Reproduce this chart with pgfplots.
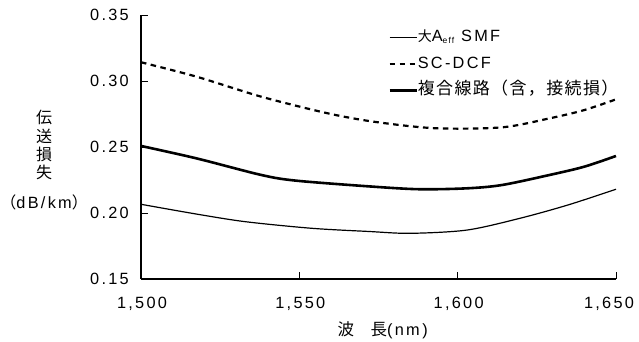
\documentclass[border=0pt]{standalone}
\usepackage{fontspec}
\setmainfont{Liberation Sans}[LetterSpace=14]
\newfontfamily\jp{Noto Sans CJK JP}
\newfontfamily\jpl{Noto Sans CJK JP}[LetterSpace=8]
\usepackage{pgfplots}
\pgfplotsset{compat=1.18}
\newcommand{\J}[1]{{\jpl\fontsize{17}{19}\selectfont #1}}
\newcommand{\LT}{\rmfamily\fontsize{16.3}{16.3}\selectfont}
\begin{document}
\begin{tikzpicture}
\useasboundingbox (0,0) rectangle (639pt,342pt);
\begin{axis}[
  at={(141pt,63pt)}, anchor=south west,
  scale only axis, width=475pt, height=264pt,
  xmin=1500, xmax=1650, ymin=0.15, ymax=0.35,
  clip=false,
  axis x line*=bottom, axis y line*=left,
  axis line style={-, line width=1.2pt},
  xtick={1500,1550,1600,1650},
  xticklabels={{1,500},{1,550},{1,600},{\hspace*{-16pt}1,650}},
  ytick={0.15,0.20,0.25,0.30,0.35},
  yticklabels={0.15,0.20,0.25,0.30,0.35},
  tick align=inside, major tick length=7pt,
  tick style={black, line width=0.8pt},
  ticklabel style={font=\LT},
  yticklabel style={anchor=east, inner sep=0pt, xshift=-12pt},
  xticklabel style={anchor=north, inner sep=0pt, yshift=-18pt, xshift=1pt},
  xlabel={波　長{\LT(nm\,)}},
  xlabel style={font=\jp\fontsize{16.5}{18}\selectfont, at={(axis description cs:0.509,-0.193)}, anchor=center},
  ylabel={\begin{tabular}{@{}c@{}}伝\\送\\損\\失\\[10.7pt]（{\LT dB/km}）\end{tabular}},
  ylabel style={font=\jp\fontsize{16}{16.3}\selectfont, rotate=-90, at={(axis description cs:-0.204,0.444)}, anchor=center, inner sep=0pt},
  legend style={draw=none, fill=none, at={(0.52,0.941)}, anchor=north west,
     font=\LT, row sep=12.3pt, inner sep=0pt,
     nodes={inner sep=0pt, text height=11pt, text depth=3pt}},
  legend cell align=left,
  legend image code/.code={\draw[#1] (0pt,0pt) -- (27pt,0pt);},
]
\addplot[black, line width=1.2pt, smooth] coordinates {
 (1500,0.2066)(1517.5,0.1992)(1533,0.1934)(1554,0.1884)(1572,0.1860)(1585,0.1846)(1603,0.1871)(1620,0.1962)(1635,0.2062)(1650,0.2180)};
\addlegendentry{{\jp\fontsize{14}{14}\selectfont 大}A\raisebox{-0.25ex}{\fontsize{8.5}{8.5}\selectfont eff} SMF}
\addplot[black, line width=2.2pt, dash pattern=on 5.5pt off 4.5pt, smooth] coordinates {
 (1500,0.3142)(1517.5,0.3033)(1538,0.2881)(1559,0.2755)(1574,0.2690)(1593,0.2642)(1614,0.2649)(1629,0.2717)(1640,0.2780)(1650,0.2861)};
\addlegendentry{SC-DCF}
\addplot[black, line width=2.6pt, smooth] coordinates {
 (1500,0.2508)(1517.5,0.2414)(1538,0.2288)(1549,0.2245)(1573,0.2200)(1588,0.2180)(1603,0.2187)(1614,0.2212)(1629,0.2288)(1640,0.2351)(1650,0.2432)};
\addlegendentry{\J{複合線路（含，接続損）}}
\end{axis}
\end{tikzpicture}
\end{document}
